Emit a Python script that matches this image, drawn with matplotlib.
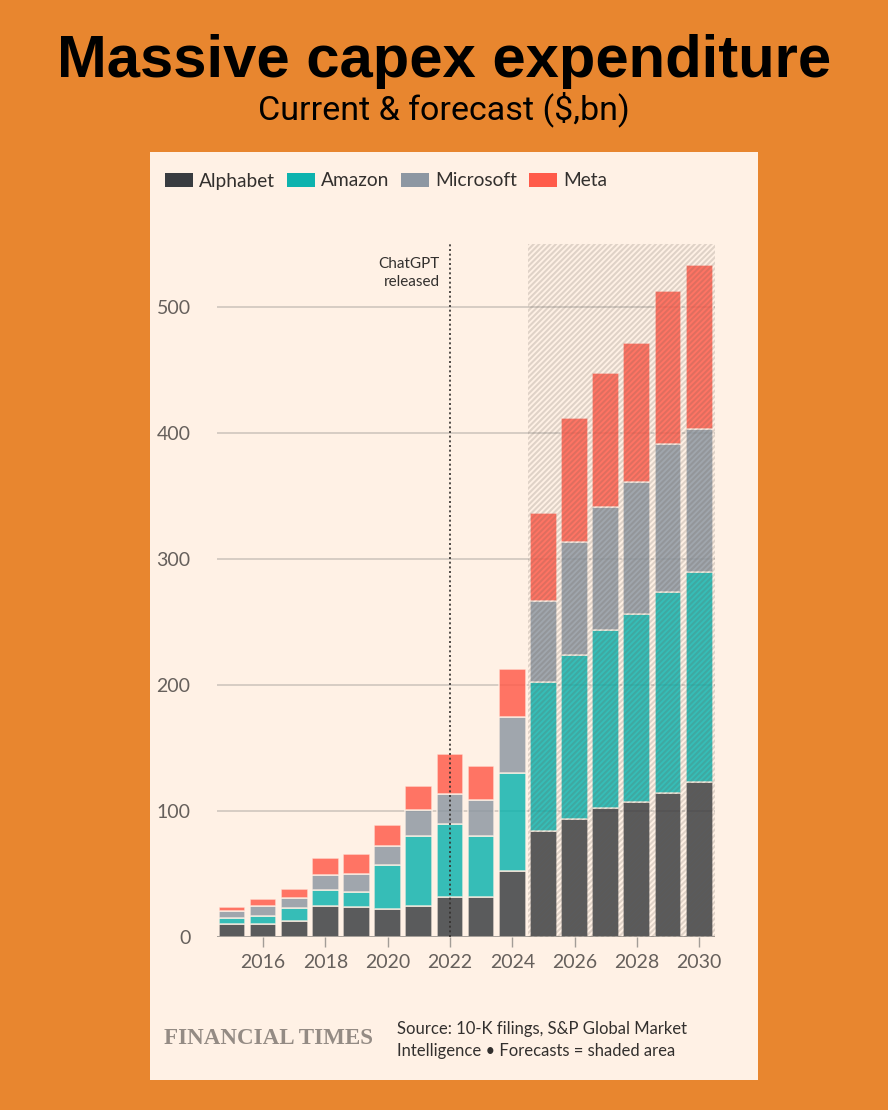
import matplotlib
matplotlib.use("Agg")
import matplotlib.pyplot as plt
from matplotlib.patches import Rectangle, Patch

# capex by company, $bn (2025 onwards = forecast)
years = list(range(2015, 2031))
alphabet = [10, 10, 13, 25, 23.5, 22, 24.5, 31.5, 32, 52.5, 84, 93.5, 102, 107, 114, 123]
amazon = [5, 7, 10, 12, 12.5, 35, 55.5, 58, 48, 77.5, 118, 130, 141.5, 149, 160, 167]
microsoft = [6, 8, 8, 12, 14, 15.5, 21, 24, 28.5, 44.5, 65, 90, 98, 105.5, 117.5, 113.5]
meta = [3, 5, 7, 14, 15.5, 16, 19, 31.5, 27.5, 38, 69.5, 98.5, 106.5, 110, 121, 129.5]

companies = ["Alphabet", "Amazon", "Microsoft", "Meta"]
colors = ["#393c40", "#0db3ae", "#8d97a2", "#ff5b4a"]
series = [alphabet, amazon, microsoft, meta]

yticks = [0, 100, 200, 300, 400, 500]
xticks = list(range(2016, 2031, 2))
chatgpt_year = 2022
forecast_start = 2024.5

ORANGE = "#e8862f"
PAPER = "#fff1e5"
INK = "#33302e"
GREY = "#66605c"

plt.rcParams["font.family"] = ["Lato", "DejaVu Sans"]
plt.rcParams["hatch.linewidth"] = 1.5

fig = plt.figure(figsize=(8.88, 11.1), dpi=100, facecolor=ORANGE)
fig.patches.append(Rectangle((150 / 888, 1 - 1080 / 1110), 608 / 888, 928 / 1110,
                             transform=fig.transFigure, facecolor=PAPER,
                             edgecolor="none", zorder=-5))

fig.text(0.5, 1 - 77 / 1110, "Massive capex expenditure", ha="center", va="baseline",
         fontsize=43, fontweight="bold", family="Liberation Sans", color="black")
fig.text(0.5, 1 - 119 / 1110, "Current & forecast ($,bn)", ha="center", va="baseline",
         fontsize=24.5, family="Roboto", color="black")

ax = fig.add_axes([217 / 888, 1 - 937 / 1110, 498 / 888, 693 / 1110])
ax.set_facecolor("none")
ax.set_zorder(1)

bottom = [0] * len(years)
for name, vals, c in zip(companies, series, colors):
    ax.bar(years, vals, bottom=bottom, width=0.86, color=c, alpha=0.83,
           edgecolor=PAPER, linewidth=1.1, zorder=2, label=name)
    bottom = [b + v for b, v in zip(bottom, vals)]

ax.set_xlim(2014.52, 2030.51)
ax.set_ylim(0, 550)

# forecast shading
ax.axvspan(forecast_start, 2030.51, facecolor="none", edgecolor=(0.39, 0.35, 0.31, 0.2),
           linewidth=0, hatch="//////", zorder=3)

ax.axvline(chatgpt_year, ymin=0, ymax=1, color=INK, linestyle=(0, (1.2, 1.6)),
           linewidth=1.2, zorder=4)
ax.text(chatgpt_year - 0.32, 527, "ChatGPT\nreleased", ha="right", va="center",
        fontsize=11, color=INK, linespacing=1.45, multialignment="right")

for s in ax.spines.values():
    s.set_visible(False)
ax.axhline(0, color="#a39d97", linewidth=1.3, zorder=2.5)

ax.set_yticks(yticks)
ax.set_yticklabels([str(t) for t in yticks])
ax.yaxis.grid(True, color="#cbc3bb", linewidth=1.1)
ax.set_axisbelow(True)
ax.tick_params(axis="y", length=0, pad=19, labelsize=14, labelcolor=GREY)
ax.set_xticks(xticks)
ax.set_xticklabels([str(t) for t in xticks])
ax.tick_params(axis="x", length=7.2, width=1, color="#a39d97", pad=5,
               labelsize=14, labelcolor=GREY)

handles = [Patch(facecolor=c, edgecolor="none") for c in colors]
fig.legend(handles, companies, loc="center left", bbox_to_anchor=(165 / 888, 1 - 181 / 1110),
           ncol=4, frameon=False, fontsize=13.8, handlelength=1.44, handleheight=0.72,
           handletextpad=0.32, columnspacing=0.64, borderpad=0, borderaxespad=0,
           labelcolor=INK)

fig.text(164 / 888, 1 - 1038 / 1110, "FINANCIAL TIMES", ha="left", va="center",
         fontsize=16.6, fontweight="bold", family="Liberation Serif", color="#948b84")
fig.text(397 / 888, 1 - 1029 / 1110, "Source: 10-K filings, S&P Global Market", ha="left",
         va="center", fontsize=12, color=INK)
fig.text(397 / 888, 1 - 1051 / 1110, "Intelligence \u2022 Forecasts = shaded area", ha="left",
         va="center", fontsize=12, color=INK)

fig.savefig("out.png", dpi=100, facecolor=ORANGE)
